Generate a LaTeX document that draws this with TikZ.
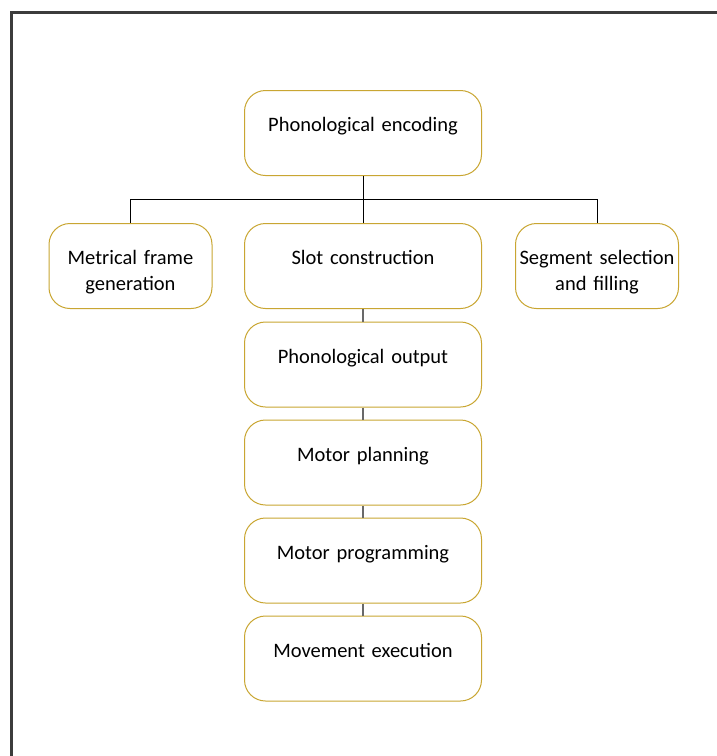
\documentclass[tikz,border=0pt]{standalone}
\usepackage{fontspec}
\setmainfont{Carlito}
\definecolor{gold}{RGB}{201,166,50}
\definecolor{frame}{RGB}{60,60,60}
\definecolor{link}{RGB}{105,105,105}
\begin{document}
\begin{tikzpicture}[x=1pt,y=-1pt,
  boxbase/.style={draw=gold, line width=1pt, rounded corners=21pt, inner sep=0pt,
    align=center, text height=41pt, text depth=44pt,
    font=\fontsize{20.5}{25.5}\selectfont},
  wide/.style={boxbase, text width=237pt},
  narrow/.style={boxbase, text width=163pt},
  tree/.style={draw=black, line width=0.9pt},
  chain/.style={draw=link, line width=1.8pt}]
\useasboundingbox (0,0) rectangle (717,756);
\fill[white] (0,0) rectangle (717,756);
\coordinate (fbl) at (11.5,760);
\coordinate (ftl) at (11.5,12.5);
\coordinate (ftr) at (720,12.5);
\draw[frame, line width=2.2pt] (fbl) -- (ftl) -- (ftr);

\node[wide] (enc) at (363,133) {Phonological encoding};
\node[narrow] (met) at (130.5,266) {Metrical frame\\generation};
\node[wide] (slot) at (363,266) {Slot construction};
\node[narrow] (seg) at (597,266) {Segment selection\\and filling};
\node[wide] (out) at (363,364.5) {Phonological output};
\node[wide] (plan) at (363,462.5) {Motor planning};
\node[wide] (prog) at (363,560.5) {Motor programming};
\node[wide] (exec) at (363,658.5) {Movement execution};

\coordinate (j) at (363,199);
\draw[tree] (enc.south) -- (j);
\draw[tree] (j) -- (slot.north);
\draw[tree] (j) -| (met.north);
\draw[tree] (j) -| (seg.north);

\draw[chain] (slot.south) -- (out.north);
\draw[chain] (out.south) -- (plan.north);
\draw[chain] (plan.south) -- (prog.north);
\draw[chain] (prog.south) -- (exec.north);
\end{tikzpicture}
\end{document}
